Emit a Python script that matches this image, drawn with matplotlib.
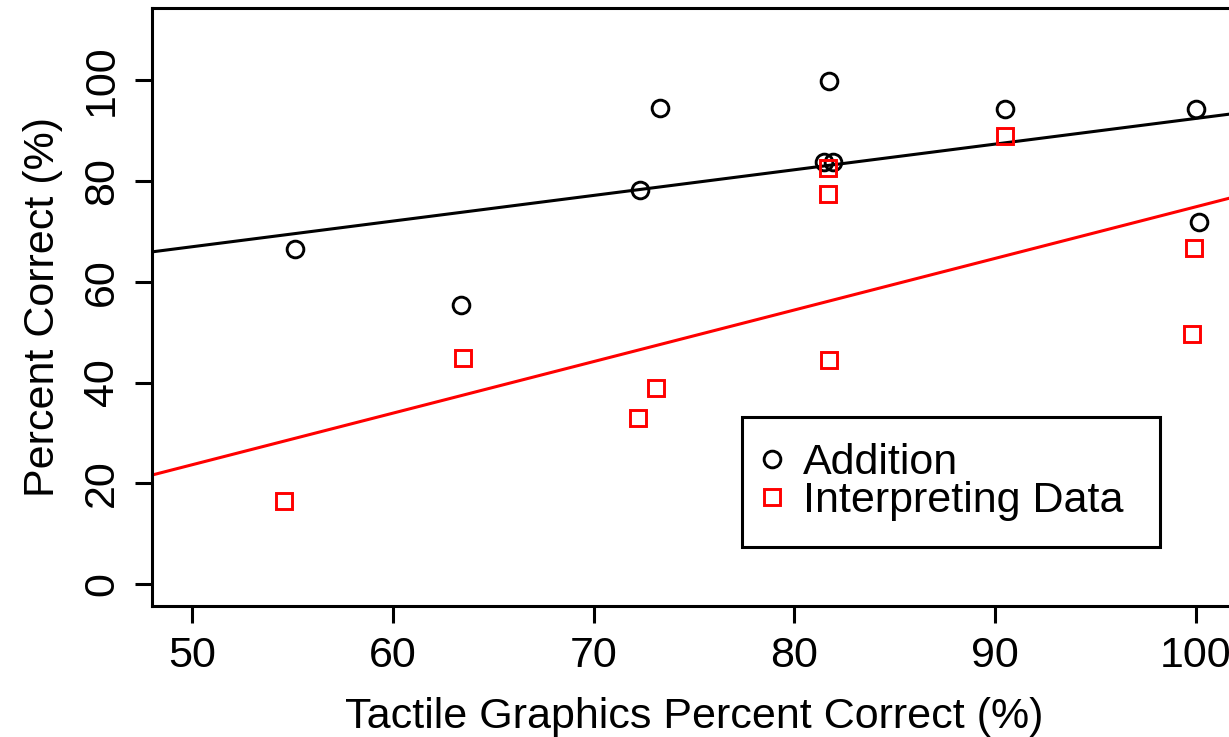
import numpy as np
import matplotlib
matplotlib.use("Agg")
import matplotlib.pyplot as plt
from matplotlib.lines import Line2D

# Data
add_x = [55.1, 63.4, 72.3, 73.3, 81.5, 81.9, 81.75, 90.5, 100.0, 100.15]
add_y = [66.5, 55.4, 78.2, 94.6, 83.8, 83.8, 99.8, 94.3, 94.3, 71.9]
int_x = [54.6, 63.5, 72.2, 73.1, 81.7, 81.7, 81.75, 90.5, 99.9, 99.8]
int_y = [16.4, 44.8, 32.9, 39.0, 82.6, 77.4, 44.4, 88.9, 66.7, 49.7]
series_names = ["Addition", "Interpreting Data"]
x_ticks = [50, 60, 70, 80, 90, 100]
y_ticks = [0, 20, 40, 60, 80, 100]

plt.rcParams['font.family'] = ['Liberation Sans', 'DejaVu Sans']

W, H = 1229, 737
fig = plt.figure(figsize=(W / 100, H / 100), dpi=100)
ax_l, ax_r, ax_b, ax_t = 152, 1236, 606, 8
ax = fig.add_axes([ax_l / W, 1 - ax_b / H, (ax_r - ax_l) / W, (ax_b - ax_t) / H])

xlim = (48, 102)
ylim = (-4.4, 114.4)
ax.set_xlim(*xlim)
ax.set_ylim(*ylim)

lw = 2.2
fs = 31
ms = 12
mew = 2.1

# regression lines (least squares fit of each series)
xx = np.array(xlim)
for xs, ys, col in [(add_x, add_y, 'black'), (int_x, int_y, 'red')]:
    b, a = np.polyfit(xs, ys, 1)
    ax.plot(xx, a + b * xx, color=col, lw=lw, zorder=2)

ax.plot(add_x, add_y, linestyle='none', marker='o', ms=ms, mfc='none',
        mec='black', mew=mew, zorder=3)
ax.plot(int_x, int_y, linestyle='none', marker='s', ms=ms - 0.5, mfc='none',
        mec='red', mew=mew, zorder=3)

ax.set_xticks(x_ticks)
ax.set_yticks(y_ticks)
ax.set_xticklabels([str(t) for t in x_ticks], fontsize=fs)
ax.set_yticklabels([str(t) for t in y_ticks], fontsize=fs, rotation=90, va='center')
ax.tick_params(axis='both', direction='out', length=12.5, width=lw, pad=9)
for s in ax.spines.values():
    s.set_linewidth(lw)

ax.set_xlabel("Tactile Graphics Percent Correct (%)", fontsize=fs, labelpad=15)
ax.set_ylabel("Percent Correct (%)", fontsize=fs, labelpad=14)

handles = [
    Line2D([], [], linestyle='none', marker='o', ms=ms, mfc='none', mec='black', mew=mew),
    Line2D([], [], linestyle='none', marker='s', ms=ms - 0.5, mfc='none', mec='red', mew=mew),
]
aw, ah = ax_r - ax_l, ax_b - ax_t
leg_x0, leg_x1, leg_top = 742, 1160, 417
leg = ax.legend(handles, series_names, loc='upper left',
                bbox_to_anchor=((leg_x0 - ax_l) / aw, (ax_b - leg_top) / ah - 0.2,
                                (leg_x1 - leg_x0) / aw, 0.2),
                mode='expand',
                fontsize=fs, frameon=True, fancybox=False, edgecolor='black',
                framealpha=1, borderpad=0.6, labelspacing=-0.04,
                handlelength=0.2, handletextpad=0.62, borderaxespad=0)
leg.get_frame().set_linewidth(lw)

fig.savefig("out.png", dpi=100)
